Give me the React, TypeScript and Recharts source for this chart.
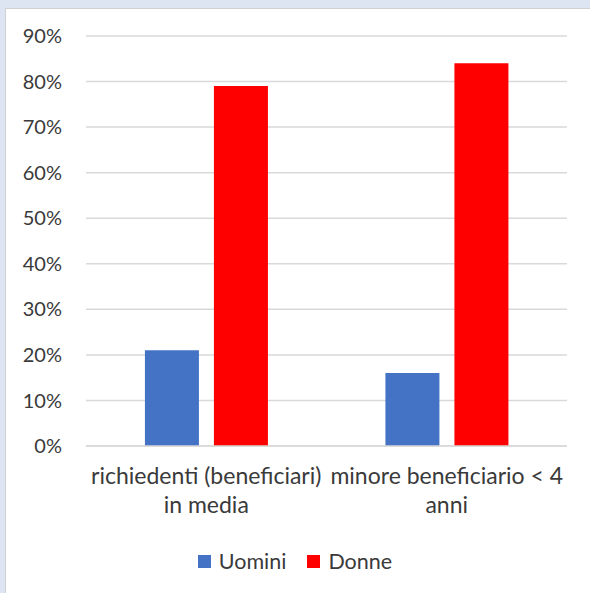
import React from 'react';
import { BarChart, Bar, XAxis, YAxis, CartesianGrid } from 'recharts';

const categories = ['richiedenti (beneficiari)|in media', 'minore beneficiario < 4|anni'];
const uomini = [21, 16];
const donne = [79, 84];
const yTicks = [0, 10, 20, 30, 40, 50, 60, 70, 80, 90];

const data = categories.map((c, i) => ({ name: c, Uomini: uomini[i], Donne: donne[i] }));

const FONT = 'Lato, "Open Sans", sans-serif';
const TEXT = '#3a3a3a';

function CatTick({ x, y, payload }: any) {
  const lines = String(payload.value).split('|');
  return (
    <g transform={`translate(${x},${y})`}>
      {lines.map((l, i) => (
        <text key={i} x={0} y={0} dy={i * 29 + 13} textAnchor="middle" fill={TEXT} fontSize={23} fontFamily={FONT}>
          {l}
        </text>
      ))}
    </g>
  );
}

function LegendBox() {
  const items = [
    { label: 'Uomini', color: '#4472c4' },
    { label: 'Donne', color: '#ff0000' },
  ];
  return (
    <div style={{ position: 'absolute', left: 0, top: 548, width: 590, display: 'flex', justifyContent: 'center', gap: 21, fontFamily: FONT, fontSize: 21.5, color: TEXT, lineHeight: '26px' }}>
      {items.map((it) => (
        <div key={it.label} style={{ display: 'flex', alignItems: 'center' }}>
          <span style={{ display: 'inline-block', width: 13, height: 13, background: it.color, marginRight: 8 }} />
          <span>{it.label}</span>
        </div>
      ))}
    </div>
  );
}

export default function App() {
  return (
    <div style={{ position: 'absolute', left: 0, top: 0, width: 590, height: 593, background: '#dce5f1', overflow: 'hidden' }}>
      <div style={{ position: 'absolute', left: 5, top: 8, width: 586, height: 586, background: '#ffffff', borderTop: '1px solid #d0d0d0', borderLeft: '1px solid #d0d0d0', boxSizing: 'border-box' }}>
        <BarChart
          width={585}
          height={584}
          data={data}
          margin={{ top: 27, right: 24, bottom: 0, left: 0 }}
          barCategoryGap="24.5%"
          barGap={15}
        >
          <CartesianGrid vertical={false} stroke="#d9d9d9" strokeWidth={1.5} />
          <YAxis
            width={80}
            domain={[0, 90]}
            ticks={yTicks}
            tickFormatter={(v) => `${v}%`}
            axisLine={false}
            tickLine={false}
            tickSize={0}
            tickMargin={24}
            tick={{ fill: TEXT, fontSize: 20, fontFamily: FONT }}
            interval={0}
          />
          <XAxis
            dataKey="name"
            height={147}
            axisLine={{ stroke: '#d9d9d9', strokeWidth: 1.5 }}
            tickLine={false}
            tickSize={0}
            tickMargin={25}
            tick={<CatTick />}
            interval={0}
          />
          <Bar dataKey="Uomini" fill="#4472c4" isAnimationActive={false} />
          <Bar dataKey="Donne" fill="#ff0000" isAnimationActive={false} />
        </BarChart>
      </div>
      <LegendBox />
    </div>
  );
}
